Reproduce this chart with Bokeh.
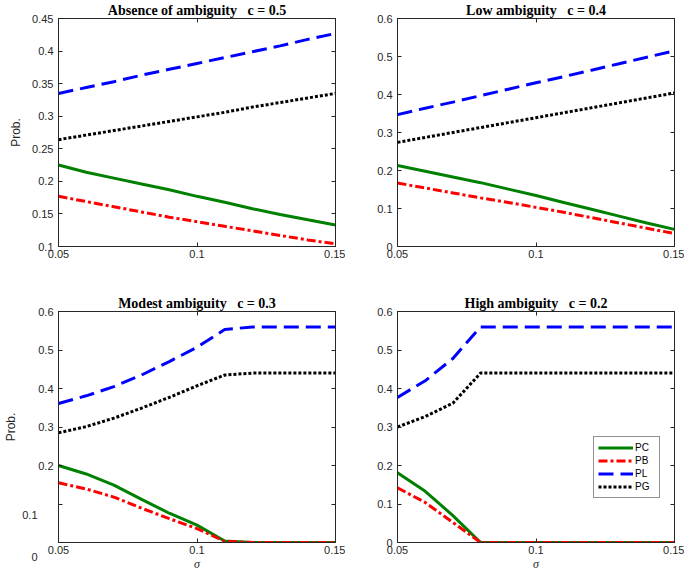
from bokeh.plotting import figure
from bokeh.models import Range1d, FixedTicker, LinearAxis, Legend, LegendItem
from bokeh.layouts import gridplot
from bokeh.embed import file_html
from bokeh.resources import INLINE

# ---------------- data ----------------
sigma = [0.05, 0.06, 0.07, 0.08, 0.09, 0.10, 0.11, 0.12, 0.13, 0.14, 0.15]

# c = 0.5 (absence of ambiguity)
pc_c05 = [0.225, 0.214, 0.205, 0.196, 0.187, 0.177, 0.168, 0.158, 0.149, 0.141, 0.133]
pb_c05 = [0.177, 0.169, 0.161, 0.153, 0.145, 0.138, 0.131, 0.124, 0.117, 0.110, 0.104]
pl_c05 = [0.335, 0.344, 0.353, 0.363, 0.372, 0.381, 0.390, 0.399, 0.408, 0.418, 0.427]
pg_c05 = [0.264, 0.271, 0.278, 0.285, 0.292, 0.299, 0.306, 0.314, 0.321, 0.328, 0.335]

# c = 0.4 (low ambiguity)
pc_c04 = [0.213, 0.198, 0.183, 0.168, 0.151, 0.134, 0.116, 0.098, 0.080, 0.062, 0.045]
pb_c04 = [0.167, 0.154, 0.141, 0.128, 0.116, 0.103, 0.090, 0.076, 0.062, 0.048, 0.034]
pl_c04 = [0.347, 0.364, 0.380, 0.397, 0.414, 0.431, 0.447, 0.464, 0.481, 0.498, 0.515]
pg_c04 = [0.274, 0.287, 0.300, 0.313, 0.326, 0.339, 0.352, 0.365, 0.378, 0.391, 0.404]

# c = 0.3 (modest ambiguity)
pc_c03 = [0.200, 0.178, 0.149, 0.112, 0.076, 0.045, 0.004, 0.0, 0.0, 0.0, 0.0]
pb_c03 = [0.155, 0.139, 0.118, 0.089, 0.062, 0.036, 0.003, 0.0, 0.0, 0.0, 0.0]
pl_c03 = [0.361, 0.381, 0.405, 0.435, 0.470, 0.507, 0.553, 0.560, 0.560, 0.560, 0.560]
pg_c03 = [0.285, 0.301, 0.323, 0.349, 0.377, 0.407, 0.435, 0.440, 0.440, 0.440, 0.440]

# c = 0.2 (high ambiguity)
pc_c02 = [0.181, 0.133, 0.070, 0.0, 0.0, 0.0, 0.0, 0.0, 0.0, 0.0, 0.0]
pb_c02 = [0.142, 0.104, 0.052, 0.0, 0.0, 0.0, 0.0, 0.0, 0.0, 0.0, 0.0]
pl_c02 = [0.377, 0.420, 0.478, 0.560, 0.560, 0.560, 0.560, 0.560, 0.560, 0.560, 0.560]
pg_c02 = [0.300, 0.327, 0.362, 0.440, 0.440, 0.440, 0.440, 0.440, 0.440, 0.440, 0.440]

series_names = ["PC", "PB", "PL", "PG"]
GAP = "\u00a0\u00a0\u00a0"
titles = ["Absence of ambiguity" + GAP + "c = 0.5", "Low ambiguity" + GAP + "c = 0.4",
          "Modest ambiguity" + GAP + "c = 0.3", "High ambiguity" + GAP + "c = 0.2"]

x_ticks = [0.05, 0.1, 0.15]
x_tick_labels = ["0.05", "0.1", "0.15"]
y_ticks_a = [0.1, 0.15, 0.2, 0.25, 0.3, 0.35, 0.4, 0.45]
y_tick_labels_a = ["0.1", "0.15", "0.2", "0.25", "0.3", "0.35", "0.4", "0.45"]
y_ticks_b = [0.0, 0.1, 0.2, 0.3, 0.4, 0.5, 0.6]
y_tick_labels_b = ["0", "0.1", "0.2", "0.3", "0.4", "0.5", "0.6"]
# the "Modest ambiguity" panel shows its two lowest labels displaced
shifted_ticks = [0.0, 0.0727]
shifted_labels = ["\n\n0", "0.1"]

# ---------------- styles ----------------
AX = "#262626"
STY = {
    "PC": dict(color="#008000", dash="solid"),
    "PB": dict(color="#ff0000", dash="9 3 3 3"),
    "PL": dict(color="#0000ff", dash="15 7"),
    "PG": dict(color="#000000", dash="3 2"),
}


def style_axis(ax, ticks, labels, hidden=False):
    ax.ticker = FixedTicker(ticks=ticks)
    ax.major_tick_in = 4
    ax.major_tick_out = 0
    ax.minor_tick_line_color = None
    ax.axis_line_color = AX
    ax.major_tick_line_color = AX
    if hidden:
        ax.major_label_overrides = {t: "" for t in ticks}
        ax.major_label_text_font_size = "0px"
        ax.major_label_standoff = 0
    else:
        ax.major_label_overrides = {t: l for t, l in zip(ticks, labels)}
        ax.major_label_text_font = "Liberation Sans"
        ax.major_label_text_font_size = "11px"
        ax.major_label_text_color = AX


def set_ylabel(ax, standoff):
    ax.axis_label = "Prob."
    ax.axis_label_text_font = "Liberation Sans"
    ax.axis_label_text_font_style = "normal"
    ax.axis_label_text_font_size = "12px"
    ax.axis_label_text_color = AX
    ax.axis_label_standoff = standoff


def panel(width, height, bl, br, bt, bb, yrange, yticks, ylabels, data, title,
          xlab, hide_y=()):
    p = figure(width=width, height=height, output_backend="svg", toolbar_location=None,
               x_range=Range1d(0.05, 0.15), y_range=Range1d(*yrange),
               min_border_left=bl, min_border_right=br, min_border_top=bt, min_border_bottom=bb)
    p.xgrid.visible = False
    p.ygrid.visible = False
    p.outline_line_color = AX
    p.background_fill_color = "white"
    p.border_fill_color = "white"

    p.title.text = title
    p.title.align = "center"
    p.title.text_font = "Liberation Serif"
    p.title.text_font_style = "bold"
    p.title.text_font_size = "14px"
    p.title.text_color = "black"
    p.title.standoff = 1

    renderers = []
    for name, ys in zip(series_names, data):
        s = STY[name]
        r = p.line(sigma, ys, line_color=s["color"], line_width=3, line_dash=s["dash"])
        renderers.append(r)

    xa = p.xaxis[0]
    style_axis(xa, x_ticks, x_tick_labels)
    xa.major_label_standoff = 3
    ya = p.yaxis[0]
    yl = [("" if t in hide_y else l) for t, l in zip(yticks, ylabels)]
    style_axis(ya, yticks, yl)
    ya.major_label_standoff = 5

    if xlab:
        xa.axis_label = "σ"
        xa.axis_label_text_font = "Liberation Serif"
        xa.axis_label_text_font_style = "italic"
        xa.axis_label_text_font_size = "12px"
        xa.axis_label_text_color = AX
        xa.axis_label_standoff = 0

    top = LinearAxis()
    style_axis(top, x_ticks, x_tick_labels, hidden=True)
    p.add_layout(top, "above")
    right = LinearAxis()
    style_axis(right, yticks, ylabels, hidden=True)
    p.add_layout(right, "right")
    return p, renderers


W_L, W_R = 345, 339
H_T, H_B = 270, 303

tl, _ = panel(W_L, H_T, 58, 10, 15, 24, (0.1, 0.45), y_ticks_a, y_tick_labels_a,
              [pc_c05, pb_c05, pl_c05, pg_c05], titles[0], False)
set_ylabel(tl.yaxis[0], 6)

tr, _ = panel(W_R, H_T, 52, 10, 15, 24, (0.0, 0.6), y_ticks_b, y_tick_labels_b,
              [pc_c04, pb_c04, pl_c04, pg_c04], titles[1], False)

bl, _ = panel(W_L, H_B, 58, 10, 41, 31, (0.0, 0.6), y_ticks_b, y_tick_labels_b,
              [pc_c03, pb_c03, pl_c03, pg_c03], titles[2], True, hide_y=(0.0, 0.1))
extra = LinearAxis(ticker=FixedTicker(ticks=shifted_ticks))
extra.major_label_overrides = {t: l for t, l in zip(shifted_ticks, shifted_labels)}
extra.major_label_text_font = "Liberation Sans"
extra.major_label_text_font_size = "11px"
extra.major_label_text_color = AX
extra.major_label_standoff = -8
extra.axis_line_color = None
extra.major_tick_line_color = None
extra.minor_tick_line_color = None
set_ylabel(extra, 1)
bl.add_layout(extra, "left")

br, br_r = panel(W_R, H_B, 52, 10, 41, 31, (0.0, 0.6), y_ticks_b, y_tick_labels_b,
                 [pc_c02, pb_c02, pl_c02, pg_c02], titles[3], True)

legend = Legend(items=[LegendItem(label=n, renderers=[r]) for n, r in zip(series_names, br_r)],
                location=(196, 44))
legend.label_text_font = "Liberation Sans"
legend.label_text_font_size = "10px"
legend.label_text_color = "black"
legend.glyph_width = 35
legend.glyph_height = 13
legend.label_height = 13
legend.label_standoff = 2
legend.spacing = 0
legend.padding = 4
legend.margin = 0
legend.border_line_color = AX
legend.border_line_width = 1
legend.background_fill_color = "white"
legend.background_fill_alpha = 1
br.add_layout(legend)

grid = gridplot([[tl, tr], [bl, br]], toolbar_location=None)

open("out.html", "w").write(file_html(grid, INLINE))
